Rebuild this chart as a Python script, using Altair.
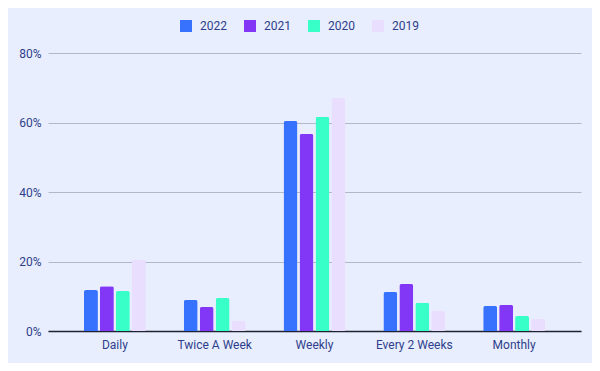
import altair as alt
import pandas as pd

categories = ["Daily", "Twice A Week", "Weekly", "Every 2 Weeks", "Monthly"]
years = ["2022", "2021", "2020", "2019"]
v2022 = [0.118, 0.089, 0.604, 0.112, 0.072]
v2021 = [0.129, 0.069, 0.567, 0.135, 0.075]
v2020 = [0.115, 0.095, 0.616, 0.081, 0.043]
v2019 = [0.204, 0.029, 0.671, 0.058, 0.035]
colors = ["#3772FF", "#8137F5", "#38FFC8", "#EADEFF"]

rows = []
for y, vals in zip(years, [v2022, v2021, v2020, v2019]):
    for c, v in zip(categories, vals):
        rows.append({"category": c, "year": y, "value": v})
df = pd.DataFrame(rows)

text_color = "#2F3E8B"
bg = "#E8EEFD"

chart = alt.Chart(df).mark_bar(cornerRadiusTopLeft=2, cornerRadiusTopRight=2).encode(
    x=alt.X("category:N", sort=categories, title=None,
            scale=alt.Scale(paddingInner=0.38, paddingOuter=0.36),
            axis=alt.Axis(labelAngle=0, ticks=False, domain=True, domainColor="#1f2233",
                          domainWidth=1.5, labelPadding=8, labelFontSize=12,
                          labelColor=text_color, grid=False)),
    xOffset=alt.XOffset("year:N", sort=years, scale=alt.Scale(paddingInner=0.125)),
    y=alt.Y("value:Q", title=None,
            scale=alt.Scale(domain=[0, 0.8], nice=False),
            axis=alt.Axis(format=".0%", values=[0, 0.2, 0.4, 0.6, 0.8], ticks=False,
                          domain=False, labelPadding=7, labelFontSize=12,
                          labelColor=text_color, grid=True, gridColor="#B3B8C8",
                          gridWidth=1)),
    color=alt.Color("year:N", sort=years,
                    scale=alt.Scale(domain=years, range=colors),
                    legend=alt.Legend(title=None, orient="none", direction="horizontal",
                                      legendX=132, legendY=-33, symbolType="square",
                                      symbolSize=144, symbolStrokeWidth=0,
                                      labelFontSize=12, labelColor=text_color,
                                      labelOffset=8, columnPadding=17)),
).properties(
    width=533, height=278,
    autosize=alt.AutoSizeParams(type="none"),
    padding={"left": 40, "top": 45, "right": 11, "bottom": 32},
).configure(
    background=bg,
    font="Roboto",
).configure_view(stroke=None)

chart.save("out.html", embed_options={"renderer": "svg", "actions": False})
